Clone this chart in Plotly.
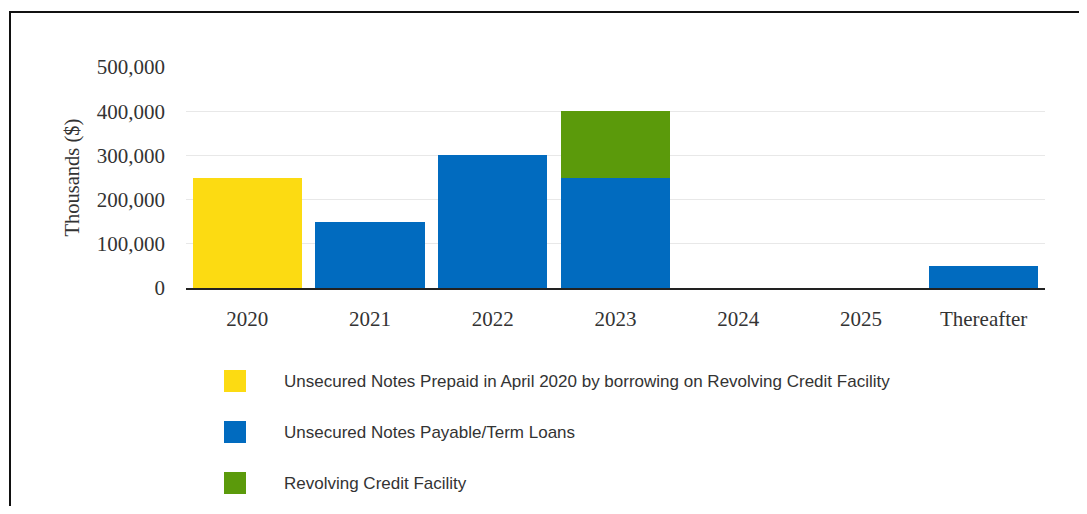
import plotly.graph_objects as go

categories = ["2020", "2021", "2022", "2023", "2024", "2025", "Thereafter"]
series_names = [
    "Unsecured Notes Prepaid in April 2020 by borrowing on Revolving Credit Facility",
    "Unsecured Notes Payable/Term Loans",
    "Revolving Credit Facility",
]
prepaid_notes = [250000, 0, 0, 0, 0, 0, 0]
notes_term_loans = [0, 150000, 300000, 250000, 0, 0, 50000]
revolving_credit = [0, 0, 0, 150000, 0, 0, 0]
colors = ["#FCDB12", "#016BBF", "#5B9A0B"]
y_ticks = [0, 100000, 200000, 300000, 400000, 500000]

# page body has an 8px margin on every side; keep the figure inside the window
OFF = 8
W, H = 1087 - 2 * OFF, 514 - 2 * OFF
L, R, T, B = 186 - OFF, W - (1045 - OFF), 67 - OFF, H - (288 - OFF)
pw, ph = W - L - R, H - T - B

def px(x):
    return (x - OFF - L) / pw

def py(y):
    return (H - B - (y - OFF)) / ph

fig = go.Figure()
for name, vals, col in zip(series_names, [prepaid_notes, notes_term_loans, revolving_credit], colors):
    fig.add_trace(go.Bar(x=categories, y=vals, name=name, marker=dict(color=col, line=dict(width=0)),
                         showlegend=False))

shapes = []
annotations = []
# Outer frame (left and top edges visible)
shapes.append(dict(type="path", xref="paper", yref="paper",
                   path=f"M {px(10)} {py(540)} L {px(10)} {py(12)} L {px(1100)} {py(12)}",
                   line=dict(color="#111111", width=2)))
# Custom legend
for i, (name, col) in enumerate(zip(series_names, colors)):
    cy = 381 + 51 * i
    shapes.append(dict(type="rect", xref="paper", yref="paper",
                       x0=px(224), x1=px(246), y0=py(cy + 11), y1=py(cy - 11),
                       fillcolor=col, line=dict(width=0)))
    annotations.append(dict(text=name, xref="paper", yref="paper", x=px(282), y=py(cy),
                            xanchor="left", yanchor="middle", showarrow=False,
                            font=dict(family="Liberation Sans, Arial", size=17, color="#333333")))
annotations.append(dict(text="Thousands ($)", xref="paper", yref="paper", x=px(72), y=0.5,
                        textangle=-90, showarrow=False, xanchor="center", yanchor="middle",
                        font=dict(family="Liberation Serif, Times New Roman", size=20.5, color="#333333")))

fig.update_layout(
    width=W, height=H,
    margin=dict(l=L, r=R, t=T, b=B, autoexpand=False),
    barmode="stack", bargap=0.11,
    plot_bgcolor="white", paper_bgcolor="white",
    shapes=shapes, annotations=annotations,
    showlegend=False,
    xaxis=dict(showgrid=False, showline=True, linecolor="#222222", linewidth=2,
               tickfont=dict(family="Liberation Serif, Times New Roman", size=21, color="#333333"),
               ticks="", ticklabelstandoff=11),
    yaxis=dict(range=[0, 500000], tickvals=y_ticks, tickformat=",", showline=False,
               gridcolor="#E8E8E8", gridwidth=1, zeroline=False,
               tickfont=dict(family="Liberation Serif, Times New Roman", size=21, color="#333333"),
               ticks="", ticklabelstandoff=20),
)
fig.write_html("out.html")
